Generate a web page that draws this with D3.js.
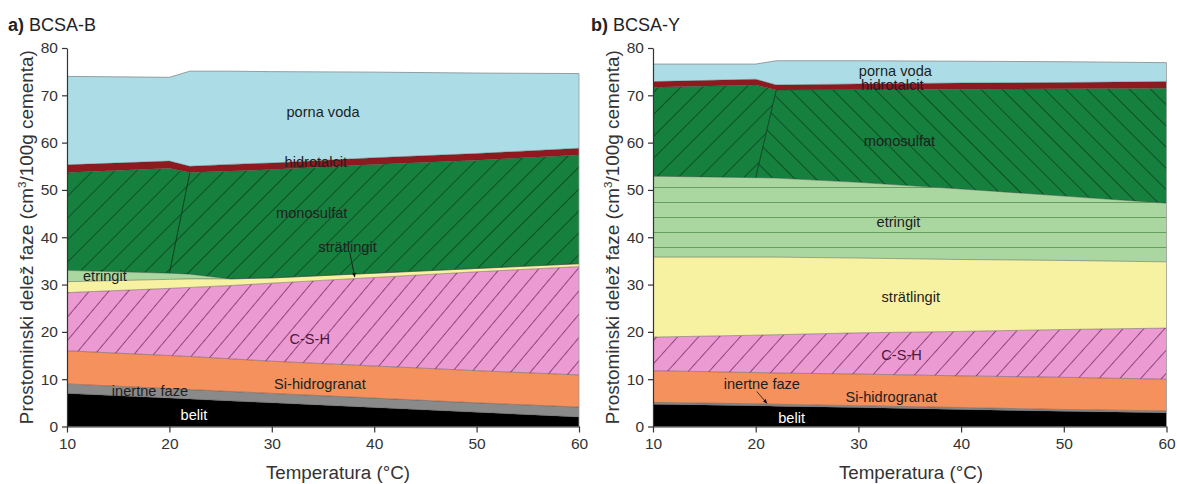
<!DOCTYPE html>
<html>
<head>
<meta charset="utf-8">
<script src="https://cdn.jsdelivr.net/npm/d3@7"></script>
<style>
  html, body { margin: 0; padding: 0; background: #fff; }
  svg { display: block; font-family: "Liberation Sans", Arial, sans-serif; }
</style>
</head>
<body>
<script>
// Phase order from bottom to top of each stack
const phases = ["belit", "inertne faze", "Si-hidrogranat", "C-S-H", "strätlingit",
                "etringit", "monosulfat", "hidrotalcit", "porna voda"];

// ---- a) BCSA-B : phase volumes (cm3 / 100 g cement) vs temperature ----
const tempB        = [10, 20, 22, 26, 30, 40, 50, 60];
const belitB       = [7.0, 6.0, 5.8, 5.4, 5.0, 4.0, 3.0, 2.0];
const inertB       = [2.0, 2.0, 2.0, 2.0, 2.0, 2.0, 2.0, 2.1];
const hidrogranatB = [7.0, 7.0, 7.0, 6.9, 6.8, 6.8, 6.8, 6.8];
const cshB         = [12.3, 14.2, 14.6, 15.5, 16.5, 18.7, 20.9, 22.9];
const stratlingitB = [2.3, 1.9, 1.8, 1.4, 1.1, 0.9, 0.7, 0.6];
const etringitB    = [2.4, 1.3, 1.0, 0.0, 0.0, 0.0, 0.0, 0.0];
const monosulfatB  = [20.7, 22.2, 21.5, 22.8, 22.9, 23.0, 22.9, 23.0];
const hidrotalcitB = [1.6, 1.5, 1.3, 1.4, 1.4, 1.4, 1.4, 1.4];
const pornaVodaB   = [18.7, 17.7, 20.1, 19.7, 19.3, 18.1, 17.0, 15.8];

// ---- b) BCSA-Y ----
const tempY        = [10, 20, 22, 30, 40, 50, 60];
const belitY       = [4.7, 4.4, 4.3, 4.0, 3.6, 3.2, 2.9];
const inertY       = [0.4, 0.4, 0.4, 0.4, 0.4, 0.4, 0.4];
const hidrogranatY = [6.7, 6.6, 6.6, 6.7, 6.7, 6.8, 6.7];
const cshY         = [7.1, 7.9, 8.1, 8.7, 9.4, 10.1, 10.8];
const stratlingitY = [16.9, 16.5, 16.4, 15.8, 15.2, 14.6, 14.0];
const etringitY    = [17.1, 16.8, 16.7, 16.0, 14.9, 13.6, 12.4];
const monosulfatY  = [18.8, 19.6, 18.6, 19.6, 21.1, 22.7, 24.3];
const hidrotalcitY = [1.2, 1.2, 1.1, 1.2, 1.3, 1.3, 1.4];
const pornaVodaY   = [3.7, 3.2, 5.1, 4.9, 4.6, 4.4, 4.0];

// Axis ticks
const xTicks = [10, 20, 30, 40, 50, 60];
const yTicks = [0, 10, 20, 30, 40, 50, 60, 70, 80];

// Temperatures between which the monosulfat boundary line runs
const dividerT = [20, 22];

// Phase labels: [text, temperature, volume]
const labelsB = [
  ["porna voda", 35.0, 66.5], ["hidrotalcit", 34.3, 56.0], ["monosulfat", 33.9, 45.2],
  ["strätlingit", 37.4, 38.0], ["etringit", 13.7, 31.8], ["C-S-H", 33.7, 18.6],
  ["Si-hidrogranat", 34.7, 9.1], ["inertne faze", 18.1, 7.6], ["belit", 22.4, 2.4]
];
const labelsY = [
  ["porna voda", 33.6, 75.2], ["hidrotalcit", 33.3, 72.2], ["monosulfat", 34.0, 60.4],
  ["etringit", 33.9, 43.3], ["strätlingit", 35.1, 27.4], ["C-S-H", 34.2, 15.1],
  ["Si-hidrogranat", 33.2, 6.3], ["inertne faze", 20.6, 9.0], ["belit", 23.5, 1.9]
];
// Leader arrows: [fromT, fromV, toT, toV]
const arrowsB = [[37.6, 36.9, 38.1, 31.6]];
const arrowsY = [[20.1, 7.4, 21.1, 4.9]];

const colors = {
  "belit": "#000000", "inertne faze": "#8a8a8a", "Si-hidrogranat": "#f4915d",
  "C-S-H": "#eb9bd2", "strätlingit": "#f7f2a2", "etringit": "#aad7a0",
  "monosulfat": "#16803e", "hidrotalcit": "#8e1a1f", "porna voda": "#acdde7"
};

const W = 1177, H = 484;
const svg = d3.select("body").append("svg").attr("width", W).attr("height", H);
const defs = svg.append("defs");

function hatch(id, bg, stroke, spacing, angle, sw) {
  const p = defs.append("pattern").attr("id", id)
    .attr("patternUnits", "userSpaceOnUse")
    .attr("width", spacing).attr("height", spacing)
    .attr("patternTransform", `rotate(${angle})`);
  p.append("rect").attr("width", spacing).attr("height", spacing).attr("fill", bg);
  p.append("line").attr("x1", 0.5).attr("y1", 0).attr("x2", 0.5).attr("y2", spacing)
    .attr("stroke", stroke).attr("stroke-width", sw);
}
hatch("monoFwd", colors["monosulfat"], "#0c4a22", 15.5, 45, 0.9);
hatch("monoBack", colors["monosulfat"], "#0c4a22", 15, -45, 0.9);
hatch("cshFwd", colors["C-S-H"], "#7b2f6b", 15, 40, 0.8);
hatch("cshFwdY", colors["C-S-H"], "#7b2f6b", 15.5, 42, 0.8);
// horizontal ruling for etringit
const ett = defs.append("pattern").attr("id", "ettLines")
  .attr("patternUnits", "userSpaceOnUse").attr("width", 20).attr("height", 15)
  .attr("y", 7);
ett.append("rect").attr("width", 20).attr("height", 15).attr("fill", colors["etringit"]);
ett.append("line").attr("x1", 0).attr("x2", 20).attr("y1", 0.5).attr("y2", 0.5)
  .attr("stroke", "#5f9a56").attr("stroke-width", 0.9);

// arrowhead
defs.append("marker").attr("id", "arrowHead").attr("viewBox", "0 0 10 10")
  .attr("refX", 9).attr("refY", 5).attr("markerWidth", 6).attr("markerHeight", 6)
  .attr("orient", "auto")
  .append("path").attr("d", "M0,1 L10,5 L0,9 Z").attr("fill", "#111");

function buildRows(temps, series) {
  return temps.map((t, i) => {
    const r = { T: t };
    phases.forEach((p, k) => { r[p] = series[k][i]; });
    return r;
  });
}

function drawPanel(cfg) {
  const x = d3.scaleLinear().domain([10, 60]).range(cfg.xRange);
  const y = d3.scaleLinear().domain([0, 80]).range([426.5, 48]);
  const g = svg.append("g");

  const rows = buildRows(cfg.temps, cfg.series);
  const stacked = d3.stack().keys(phases)(rows);
  const area = d3.area().x(d => x(d.data.T)).y0(d => y(d[0])).y1(d => y(d[1]));
  const topLine = d3.line().x(d => x(d.data.T)).y(d => y(d[1]));

  // divider line endpoints inside the monosulfat layer
  const mono = stacked[phases.indexOf("monosulfat")];
  const i0 = cfg.temps.indexOf(dividerT[0]), i1 = cfg.temps.indexOf(dividerT[1]);
  const P1 = [x(dividerT[0]), y(mono[i0][0])];
  const P2 = [x(dividerT[1]), y(mono[i1][1])];

  stacked.forEach(layer => {
    const key = layer.key;
    const fill = cfg.fills[key] || colors[key];
    if (key === "monosulfat" && cfg.splitMono) {
      const top = 40, bot = 430;
      const xAt = yy => P1[0] + (P2[0] - P1[0]) * (yy - P1[1]) / (P2[1] - P1[1]);
      const left = [[0, top], [xAt(top), top], [xAt(bot), bot], [0, bot]];
      const right = [[xAt(top), top], [W, top], [W, bot], [xAt(bot), bot]];
      [["L", left, "url(#monoFwd)"], ["R", right, "url(#monoBack)"]].forEach(([s, poly, f]) => {
        const cid = `clip${cfg.id}${s}`;
        defs.append("clipPath").attr("id", cid).append("polygon")
          .attr("points", poly.map(p => p.join(",")).join(" "));
        g.append("path").datum(layer).attr("d", area)
          .attr("fill", f).attr("clip-path", `url(#${cid})`);
      });
    } else {
      g.append("path").datum(layer).attr("d", area).attr("fill", fill);
    }
  });

  // phase boundaries
  stacked.forEach(layer => {
    g.append("path").datum(layer).attr("d", topLine).attr("fill", "none")
      .attr("stroke", layer.key === "porna voda" ? "#8a9499" : "#3a3a3a")
      .attr("stroke-opacity", layer.key === "porna voda" ? 1 : 0.45)
      .attr("stroke-width", 0.9);
  });
  // right edge
  const last = rows.length - 1;
  g.append("line").attr("x1", x(60)).attr("x2", x(60))
    .attr("y1", y(0)).attr("y2", y(stacked[stacked.length - 1][last][1]))
    .attr("stroke", "#9a9a9a").attr("stroke-width", 0.8);

  // monosulfat divider
  g.append("line").attr("x1", P1[0]).attr("y1", P1[1]).attr("x2", P2[0]).attr("y2", P2[1])
    .attr("stroke", "#0a3a1a").attr("stroke-width", 0.9);

  // labels
  cfg.labels.forEach(([t, T, v]) => {
    g.append("text").attr("x", x(T)).attr("y", y(v)).attr("dy", "0.35em")
      .attr("text-anchor", "middle").attr("font-size", 14.6)
      .attr("fill", t === "belit" ? "#ffffff" : (t === "C-S-H" ? "#4a1840" : "#1e1e1e"))
      .text(t);
  });
  cfg.arrows.forEach(([t0, v0, t1, v1]) => {
    g.append("line").attr("x1", x(t0)).attr("y1", y(v0)).attr("x2", x(t1)).attr("y2", y(v1))
      .attr("stroke", "#111").attr("stroke-width", 0.8).attr("marker-end", "url(#arrowHead)");
  });

  // axes
  const yAxis = g.append("g").attr("transform", `translate(${cfg.xRange[0]},0)`)
    .call(d3.axisLeft(y).tickValues(yTicks).tickSize(5).tickSizeOuter(0).tickPadding(4));
  const xAxis = g.append("g").attr("transform", `translate(0,${y(0)})`)
    .call(d3.axisBottom(x).tickValues(xTicks).tickSize(6).tickSizeOuter(0).tickPadding(5));
  [yAxis, xAxis].forEach(a => {
    a.selectAll("path, line").attr("stroke", "#333").attr("stroke-width", 1.2);
    a.selectAll("text").attr("font-size", 15.5).attr("fill", "#333")
      .attr("font-family", '"Liberation Sans", Arial, sans-serif');
  });

  // axis titles
  const midY = (y(0) + y(80)) / 2;
  const yt = g.append("text")
    .attr("transform", `translate(${cfg.xRange[0] - 34},${midY}) rotate(-90)`)
    .attr("text-anchor", "middle").attr("font-size", 18.9).attr("fill", "#333");
  yt.append("tspan").text("Prostominski delež faze (cm");
  yt.append("tspan").attr("font-size", 11.5).attr("dy", -7).text("3");
  yt.append("tspan").attr("dy", 7).text("/100g cementa)");

  g.append("text").attr("x", cfg.xTitleX).attr("y", 479)
    .attr("text-anchor", "middle").attr("font-size", 18.8).attr("fill", "#333")
    .text("Temperatura (°C)");

  const tt = g.append("text").attr("x", cfg.titleX).attr("y", 31)
    .attr("font-size", 18).attr("fill", "#222");
  tt.append("tspan").attr("font-weight", "bold").text(cfg.tag);
  tt.append("tspan").text(" " + cfg.name);
}

drawPanel({
  id: "B", tag: "a)", name: "BCSA-B", titleX: 8, xRange: [67, 579], xTitleX: 338,
  temps: tempB,
  series: [belitB, inertB, hidrogranatB, cshB, stratlingitB, etringitB, monosulfatB, hidrotalcitB, pornaVodaB],
  fills: { "monosulfat": "url(#monoFwd)", "C-S-H": "url(#cshFwd)" },
  splitMono: false, labels: labelsB, arrows: arrowsB
});
drawPanel({
  id: "Y", tag: "b)", name: "BCSA-Y", titleX: 591, xRange: [653, 1166.5], xTitleX: 911,
  temps: tempY,
  series: [belitY, inertY, hidrogranatY, cshY, stratlingitY, etringitY, monosulfatY, hidrotalcitY, pornaVodaY],
  fills: { "C-S-H": "url(#cshFwdY)", "etringit": "url(#ettLines)" },
  splitMono: true, labels: labelsY, arrows: arrowsY
});
</script>
</body>
</html>
